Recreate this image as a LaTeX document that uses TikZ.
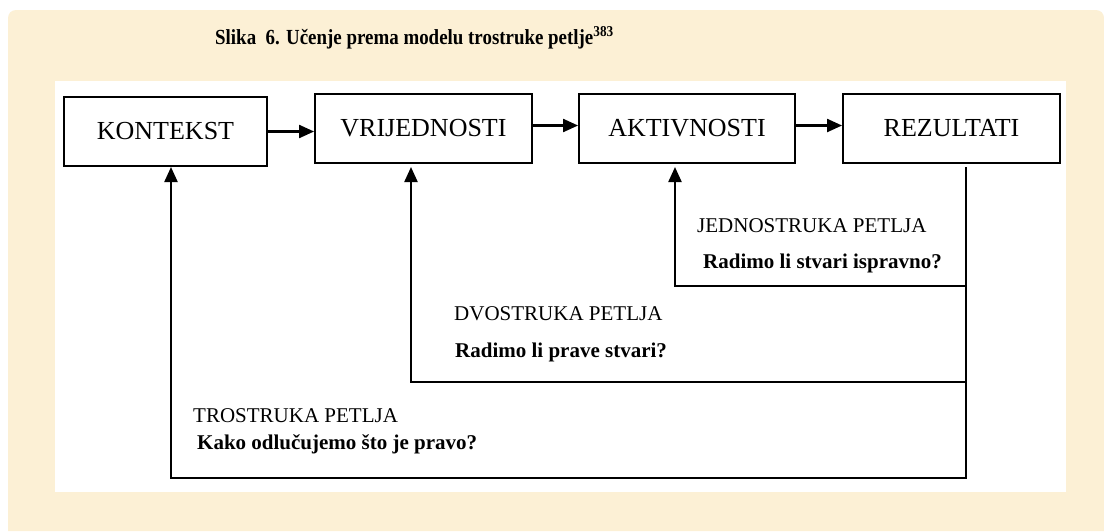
\documentclass[tikz,border=0pt]{standalone}
\usepackage{fontspec}
\setmainfont{Liberation Serif}
\newfontfamily\titlefont[FakeStretch=0.88]{Liberation Serif}
\usetikzlibrary{arrows.meta}
\definecolor{parch}{RGB}{252,240,213}
\begin{document}
\begin{tikzpicture}[x=1pt,y=-1pt,
  boxst/.style={draw=black,line width=1.9pt,fill=white,minimum height=69pt,inner sep=0pt,font=\fontsize{26}{30}\selectfont},
  arr/.style={line width=2.2pt,-{Triangle[length=15pt,width=13pt]}},
  lbl/.style={anchor=base west,inner sep=0pt,font=\fontsize{21}{24}\selectfont},
  blbl/.style={anchor=base west,inner sep=0pt,font=\fontsize{21}{24}\selectfont\bfseries}]
\useasboundingbox (0,0) rectangle (1104,531);
\fill[white] (0,0) rectangle (1104,531);
\fill[parch] (1104,531) -- (8,531) {[rounded corners=8pt] -- (8,10) -- (1104,10)} -- cycle;
\fill[white] (55,81) rectangle (1066,492);
% title
\node[anchor=base west,inner sep=0pt,font=\titlefont\fontsize{21.5}{25}\selectfont\bfseries] (title) at (215,44) {Slika\ \ 6. Učenje prema modelu trostruke petlje\textsuperscript{383}};
% boxes
\node[boxst,minimum width=203pt] (kont) at (165.5,131.5) {KONTEKST};
\node[boxst,minimum width=217pt] (vrij) at (423.5,128.5) {VRIJEDNOSTI};
\node[boxst,minimum width=216pt] (akt) at (687,128.5) {AKTIVNOSTI};
\node[boxst,minimum width=217pt] (rez) at (951.5,128.5) {REZULTATI};
% forward arrows
\draw[arr] (kont.east) -- (kont.east -| vrij.west);
\draw[arr] ([yshift=3pt]vrij.east) -- ([yshift=3pt]akt.west);
\draw[arr] ([yshift=3pt]akt.east) -- ([yshift=3pt]rez.west);
% loops
\coordinate (src) at (966,167);
\coordinate (t1) at (675,167);
\coordinate (t2) at (411,167);
\coordinate (t3) at (171,167);
\coordinate (b1) at (675,286);
\coordinate (b2) at (411,382);
\coordinate (b3) at (171,478);
\draw[arr] (src) |- (b1) -- (t1);
\draw[arr] (src) |- (b2) -- (t2);
\draw[arr] (src) |- (b3) -- (t3);
% labels
\node[lbl] (l1) at (697,232) {JEDNOSTRUKA PETLJA};
\node[blbl] (q1) at (703,268) {Radimo li stvari ispravno?};
\node[lbl] (l2) at (454,320) {DVOSTRUKA PETLJA};
\node[blbl] (q2) at (455,357) {Radimo li prave stvari?};
\node[lbl] (l3) at (193,422) {TROSTRUKA PETLJA};
\node[blbl] (q3) at (197,449) {Kako odlučujemo što je pravo?};
\end{tikzpicture}
\end{document}
